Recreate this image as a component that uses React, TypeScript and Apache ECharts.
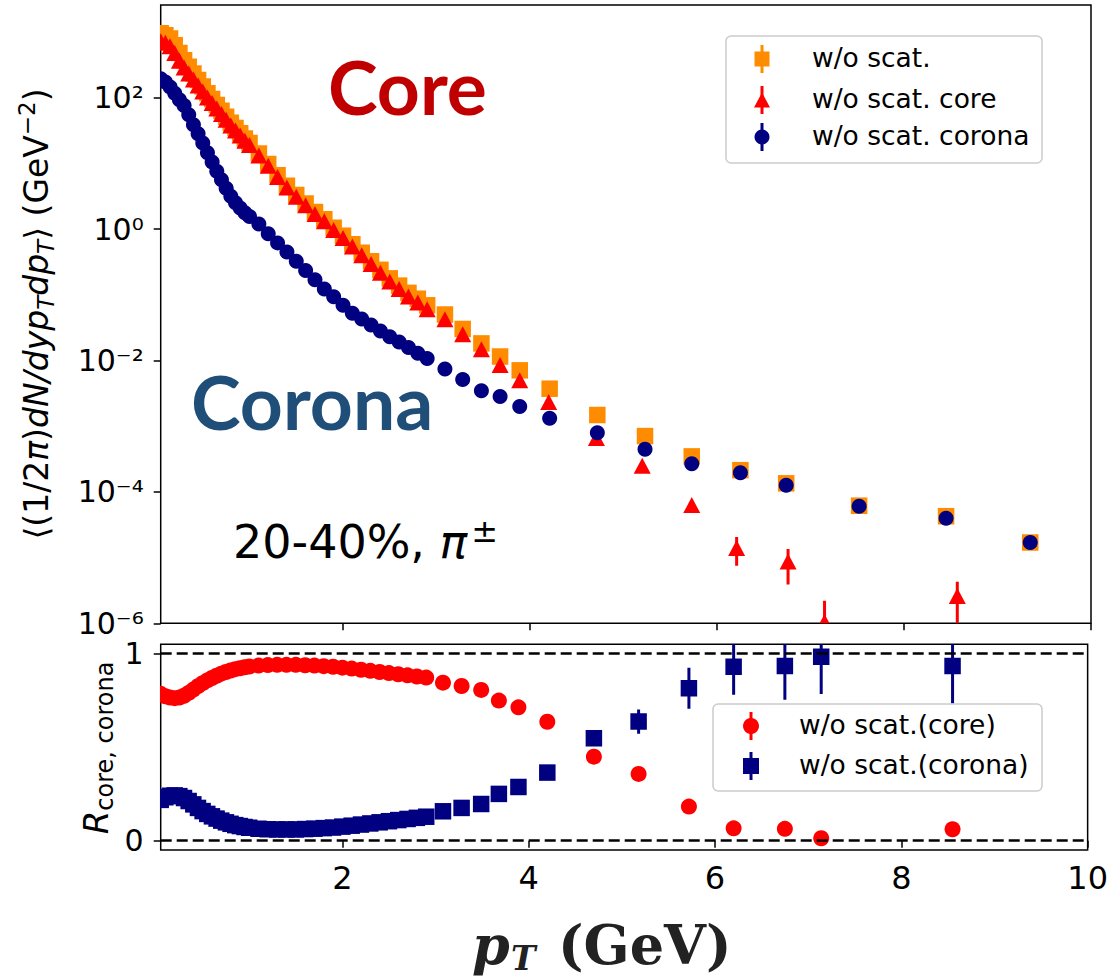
import React, { useEffect, useRef } from "react";
import * as echarts from "echarts";

// ---------------- data ----------------
const ptLow = [
  0.05, 0.1, 0.15, 0.2, 0.25, 0.3, 0.35, 0.4, 0.45, 0.5, 0.55, 0.6, 0.65, 0.7, 0.75, 0.8, 0.85, 0.9, 0.95, 1.0,
  1.1, 1.2, 1.3, 1.4, 1.5, 1.6, 1.7, 1.8, 1.9, 2.0, 2.1, 2.2, 2.3, 2.4, 2.5, 2.6, 2.7, 2.8, 2.9,
];
const ptHighAll = [3.09, 3.28, 3.48, 3.68, 3.89, 4.21, 4.72, 5.23, 5.73, 6.25, 6.74, 7.52, 8.45, 9.35];
const ptHighCore = [3.09, 3.28, 3.48, 3.68, 3.89, 4.2, 4.71, 5.2, 5.73, 6.21, 6.76, 7.15, 8.57];
const ptHighRatio = [3.08, 3.28, 3.49, 3.68, 3.89, 4.2, 4.7, 5.18, 5.72, 6.2, 6.75, 7.14, 8.55];

// (1/2pi) dN/dy pT dpT, GeV^-2
const yieldTotal = [
  955, 891, 794, 631, 479, 372, 295, 234, 186, 148, 117, 95.5, 77.6, 63.1, 51.3, 41.7, 34.7, 28.8, 24.0, 20.4,
  14.1, 9.77, 6.61, 4.57, 3.31, 2.45, 1.82, 1.41, 1.05, 0.794, 0.589, 0.437, 0.324, 0.24, 0.178, 0.138, 0.107, 0.0871, 0.0692,
  0.0501, 0.0302, 0.0182, 0.0115, 0.00708, 0.00372, 0.00148, 7.08e-4, 3.47e-4, 2.14e-4, 1.35e-4, 6.17e-5, 4.27e-5, 1.7e-5,
];
const yieldCore = [
  720, 689, 608, 481, 366, 288, 233, 189, 154, 124, 101, 83.2, 68.5, 56.4, 46.2, 37.9, 31.8, 26.6, 22.2, 19.0,
  13.2, 9.18, 6.21, 4.3, 3.11, 2.3, 1.7, 1.32, 0.973, 0.735, 0.542, 0.399, 0.294, 0.216, 0.159, 0.123, 0.0946, 0.0766, 0.0604,
  0.0424, 0.0251, 0.0148, 0.00851, 0.00501, 0.00234, 6.6e-4, 2.51e-4, 6.3e-5, 1.4e-5, 8.7e-6, 1.05e-6, 2.6e-6,
];
const errCoreHigh = [0, 0, 0, 0, 0, 0, 0, 0, 0, 6.5e-6, 4.8e-6, 1.15e-6, 1.7e-6];
const yieldCorona = [
  195, 174, 145, 117, 93.3, 75.9, 55.0, 38.9, 28.2, 20.4, 14.5, 10.5, 7.59, 5.62, 4.17, 3.16, 2.51, 2.09, 1.78, 1.55,
  1.2, 0.851, 0.617, 0.447, 0.324, 0.234, 0.17, 0.123, 0.0933, 0.0692, 0.0525, 0.0427, 0.0347, 0.0282, 0.0229, 0.0191, 0.0158, 0.0129, 0.0107,
  0.00741, 0.00513, 0.00347, 0.00282, 0.002, 0.00132, 7.94e-4, 4.47e-4, 2.69e-4, 1.95e-4, 1.26e-4, 6.03e-5, 3.98e-5, 1.7e-5,
];

// R_core, R_corona
const ratioCore = [
  0.785, 0.772, 0.765, 0.762, 0.765, 0.775, 0.79, 0.808, 0.826, 0.842, 0.857, 0.87, 0.882, 0.893, 0.902, 0.91, 0.917, 0.922, 0.927, 0.931,
  0.936, 0.939, 0.94, 0.94, 0.94, 0.938, 0.936, 0.933, 0.93, 0.925, 0.92, 0.914, 0.908, 0.902, 0.896, 0.89, 0.884, 0.878, 0.872,
  0.845, 0.827, 0.806, 0.749, 0.713, 0.636, 0.449, 0.357, 0.182, 0.066, 0.063, 0.013, 0.061,
];
const errRatioCoreHigh = [0, 0, 0, 0, 0, 0, 0.01, 0.02, 0.03, 0.02, 0.02, 0.01, 0.02];
const ratioCorona = [
  0.218, 0.232, 0.24, 0.242, 0.238, 0.228, 0.212, 0.194, 0.175, 0.158, 0.143, 0.13, 0.118, 0.107, 0.098, 0.09, 0.083, 0.078, 0.073, 0.069,
  0.064, 0.061, 0.06, 0.06, 0.06, 0.062, 0.064, 0.067, 0.07, 0.075, 0.08, 0.086, 0.092, 0.098, 0.104, 0.11, 0.116, 0.122, 0.128,
  0.157, 0.175, 0.196, 0.25, 0.287, 0.364, 0.548, 0.637, 0.815, 0.93, 0.934, 0.984, 0.934,
];
const errRatioCoronaHigh = [0, 0, 0, 0, 0, 0, 0.02, 0.065, 0.11, 0.15, 0.18, 0.2, 0.2];

const xTicks = [2, 4, 6, 8, 10];
const yLogTicks = [1e-6, 1e-4, 1e-2, 1, 100];
const yRatioTicks = [0, 1];
const refLines = [0, 1];

const legendTopLabels = ["w/o scat.", "w/o scat. core", "w/o scat. corona"];
const legendBottomLabels = ["w/o scat.(core)", "w/o scat.(corona)"];

// ---------------- styling ----------------
const C_TOTAL = "#ff8c00";
const C_CORE = "#ff0000";
const C_CORONA = "#000080";
const FONT = "DejaVu Sans";
const SERIF = "DejaVu Serif";

const SUP: Record<string, string> = {
  "0": "\u2070", "1": "\u00b9", "2": "\u00b2", "3": "\u00b3", "4": "\u2074",
  "5": "\u2075", "6": "\u2076", "7": "\u2077", "8": "\u2078", "9": "\u2079", "-": "\u207b",
};
const supStr = (n: number) => String(n).split("").map((c) => SUP[c] || c).join("");

function markerEl(shape: string, cx: number, cy: number, size: number, color: string) {
  if (shape === "square") {
    return { type: "rect", shape: { x: cx - size / 2, y: cy - size / 2, width: size, height: size }, style: { fill: color } };
  }
  if (shape === "triangle") {
    const w = size + 1;
    const h = size;
    return {
      type: "polygon",
      shape: { points: [[cx, cy - h / 2], [cx - w / 2, cy + h / 2], [cx + w / 2, cy + h / 2]] },
      style: { fill: color },
    };
  }
  return { type: "circle", shape: { cx, cy, r: size / 2 }, style: { fill: color } };
}

function makeRender(shape: string, size: number, color: string, yFloor: number) {
  return (_params: any, api: any) => {
    const x = api.value(0);
    const y = api.value(1);
    const e = api.value(2);
    const c = api.coord([x, y]);
    const children: any[] = [];
    if (e > 0) {
      const top = api.coord([x, y + e]);
      const bot = api.coord([x, Math.max(y - e, yFloor)]);
      children.push({
        type: "line",
        shape: { x1: c[0], y1: top[1], x2: c[0], y2: bot[1] },
        style: { stroke: color, lineWidth: 3 },
      });
    }
    children.push(markerEl(shape, c[0], c[1], size, color));
    return { type: "group", children };
  };
}

function zipData(xs: number[], ys: number[], errs: number[]) {
  return xs.map((x, i) => [x, ys[i], errs[i] || 0]);
}

const ptAll = [...ptLow, ...ptHighAll];
const ptCore = [...ptLow, ...ptHighCore];
const ptRatio = [...ptLow, ...ptHighRatio];
const zerosLow = ptLow.map(() => 0);

export default function App() {
  const ref = useRef<HTMLDivElement>(null);
  useEffect(() => {
    if (!ref.current) return;
    const chart = echarts.init(ref.current, undefined, { renderer: "svg" });

    const tickStyle = { color: "#000", width: 1.5 };
    const labelX = { fontFamily: FONT, fontSize: 32, color: "#000", lineHeight: 26 };
    const labelY = { fontFamily: FONT, fontSize: 30, color: "#000", lineHeight: 26 };

    const plainText = (text: string, x: number, y: number, font: string, fill = "#000", lineHeight?: number) => ({
      type: "text",
      x,
      y,
      z: 110,
      style: {
        text, fill, font, align: "left", verticalAlign: "middle", textAlign: "left", textVerticalAlign: "middle",
        ...(lineHeight ? { lineHeight } : {}),
      },
    });
    const legendMarker = (shape: string, cx: number, cy: number, size: number, color: string) => ({
      type: "group",
      z: 110,
      children: [
        { type: "line", z: 110, shape: { x1: cx, y1: cy - 14, x2: cx, y2: cy + 14 }, style: { stroke: color, lineWidth: 3 } },
        { ...markerEl(shape, cx, cy, size, color), z: 110 },
      ],
    });

    const option: any = {
      animation: false,
      backgroundColor: "#ffffff",
      grid: [
        { left: 160.7, top: 5, width: 930.3, height: 618.3, show: true, borderColor: "#000", borderWidth: 1.5, backgroundColor: "transparent" },
        { left: 160.7, top: 644.3, width: 930.3, height: 205.7, show: true, borderColor: "#000", borderWidth: 1.5, backgroundColor: "transparent" },
      ],
      xAxis: [
        {
          gridIndex: 0, type: "value", min: 0.05, max: 10,
          axisLine: { show: false }, splitLine: { show: false },
          axisTick: { show: true, customValues: xTicks, length: 7, lineStyle: tickStyle },
          axisLabel: { show: false },
        },
        {
          gridIndex: 1, type: "value", min: 0.05, max: 10,
          axisLine: { show: false }, splitLine: { show: false },
          axisTick: { show: true, customValues: xTicks, length: 7, lineStyle: tickStyle },
          axisLabel: { show: true, customValues: xTicks, margin: 15, ...labelX },
        },
      ],
      yAxis: [
        {
          gridIndex: 0, type: "log", logBase: 10, min: 1e-6, max: 2576,
          axisLine: { show: false }, splitLine: { show: false },
          axisTick: { show: true, customValues: yLogTicks, length: 7, lineStyle: tickStyle },
          axisLabel: {
            show: true, customValues: yLogTicks, margin: 17, ...labelY,
            formatter: (v: number) => "10" + supStr(Math.round(Math.log10(v))),
          },
        },
        {
          gridIndex: 1, type: "value", min: -0.05, max: 1.05,
          axisLine: { show: false }, splitLine: { show: false },
          axisTick: { show: true, customValues: yRatioTicks, length: 7, lineStyle: tickStyle },
          axisLabel: { show: true, customValues: yRatioTicks, margin: 17, ...labelY, formatter: (v: number) => String(Math.round(v)) },
        },
      ],
      series: [
        {
          name: legendTopLabels[0], type: "custom", xAxisIndex: 0, yAxisIndex: 0, clip: true, z: 2,
          renderItem: makeRender("square", 16.5, C_TOTAL, 1e-6),
          encode: { x: 0, y: 1 },
          data: zipData(ptAll, yieldTotal, []),
        },
        {
          name: legendTopLabels[1], type: "custom", xAxisIndex: 0, yAxisIndex: 0, clip: true, z: 3,
          renderItem: makeRender("triangle", 16, C_CORE, 1e-6),
          encode: { x: 0, y: 1 },
          data: zipData(ptCore, yieldCore, [...zerosLow, ...errCoreHigh]),
        },
        {
          name: legendTopLabels[2], type: "custom", xAxisIndex: 0, yAxisIndex: 0, clip: true, z: 4,
          renderItem: makeRender("circle", 15, C_CORONA, 1e-6),
          encode: { x: 0, y: 1 },
          data: zipData(ptAll, yieldCorona, []),
        },
        {
          name: legendBottomLabels[0], type: "custom", xAxisIndex: 1, yAxisIndex: 1, clip: true, z: 2,
          renderItem: makeRender("circle", 16, C_CORE, -1),
          encode: { x: 0, y: 1 },
          data: zipData(ptRatio, ratioCore, [...zerosLow, ...errRatioCoreHigh]),
        },
        {
          name: legendBottomLabels[1], type: "custom", xAxisIndex: 1, yAxisIndex: 1, clip: true, z: 3,
          renderItem: makeRender("square", 16.5, C_CORONA, -1),
          encode: { x: 0, y: 1 },
          data: zipData(ptRatio, ratioCorona, [...zerosLow, ...errRatioCoronaHigh]),
        },
        {
          name: "ref", type: "line", xAxisIndex: 1, yAxisIndex: 1, data: [], z: 5,
          markLine: {
            silent: true, symbol: "none", label: { show: false }, animation: false,
            lineStyle: { color: "#000", type: [11, 5], width: 2.6 },
            data: refLines.map((v) => ({ yAxis: v })),
          },
        },
      ],
      graphic: {
        elements: [
          // big annotations
          plainText("Core", 328, 86, 'bold 75px "Lato"', "#c00000"),
          plainText("Corona", 191, 401, 'bold 75px "Lato"', "#1f4e79"),
          {
            type: "text", x: 233, y: 542, z: 50,
            style: {
              text: "{n|20-40%, }{i|\u03c0}{p|\u00b1}",
              align: "left", verticalAlign: "middle", textAlign: "left", textVerticalAlign: "middle",
              rich: {
                n: { fontFamily: FONT, fontSize: 46, lineHeight: 54, fill: "#000", color: "#000" },
                i: { fontFamily: FONT, fontSize: 46, lineHeight: 54, fontStyle: "italic", fill: "#000", color: "#000" },
                p: { fontFamily: FONT, fontSize: 32, lineHeight: 32, verticalAlign: "top", padding: [0, 0, 0, 4], fill: "#000", color: "#000" },
              },
            },
          },
          // y axis titles
          {
            type: "text", x: 36, y: 314, rotation: Math.PI / 2, z: 50,
            style: {
              text: "{n|\u27e8(1/2}{i|\u03c0}{n|)}{i|dN/dyp}{s|T}{i|dp}{s|T}{n|\u27e9 (GeV}{p|\u22122}{n|)}",
              align: "center", verticalAlign: "middle", textAlign: "center", textVerticalAlign: "middle",
              rich: {
                n: { fontFamily: FONT, fontSize: 33, lineHeight: 42, fill: "#000", color: "#000" },
                i: { fontFamily: FONT, fontSize: 33, lineHeight: 42, fontStyle: "italic", fill: "#000", color: "#000" },
                s: { fontFamily: FONT, fontSize: 23, lineHeight: 23, fontStyle: "italic", verticalAlign: "bottom", fill: "#000", color: "#000" },
                p: { fontFamily: FONT, fontSize: 23, lineHeight: 23, verticalAlign: "top", fill: "#000", color: "#000" },
              },
            },
          },
          {
            type: "text", x: 96, y: 748, rotation: Math.PI / 2, z: 50,
            style: {
              text: "{r|R}{s|core, corona}",
              align: "center", verticalAlign: "middle", textAlign: "center", textVerticalAlign: "middle",
              rich: {
                r: { fontFamily: FONT, fontSize: 34, lineHeight: 42, fontStyle: "italic", fill: "#000", color: "#000" },
                s: { fontFamily: FONT, fontSize: 24, lineHeight: 24, verticalAlign: "bottom", fill: "#000", color: "#000" },
              },
            },
          },
          // x axis title: p_T (GeV)
          plainText("p", 472, 945, `italic bold 54px "${SERIF}"`, "#222", 54),
          plainText("T", 511, 958, `italic bold 33px "${SERIF}"`, "#222", 30),
          plainText("(GeV)", 558, 945, `bold 54px "${SERIF}"`, "#222", 54),
          // top legend
          {
            type: "rect", z: 100,
            shape: { x: 726, y: 36, width: 316, height: 127, r: 5 },
            style: { fill: "rgba(255,255,255,0.8)", stroke: "#cccccc", lineWidth: 1.5 },
          },
          legendMarker("square", 762, 59, 15, C_TOTAL),
          legendMarker("triangle", 762, 100, 15, C_CORE),
          legendMarker("circle", 762, 137, 15, C_CORONA),
          plainText(legendTopLabels[0], 812, 57, `26.5px "${FONT}"`),
          plainText(legendTopLabels[1], 812, 98, `26.5px "${FONT}"`),
          plainText(legendTopLabels[2], 812, 135, `26.5px "${FONT}"`),
          // bottom legend
          {
            type: "rect", z: 100,
            shape: { x: 713, y: 704, width: 329, height: 87, r: 5 },
            style: { fill: "rgba(255,255,255,0.8)", stroke: "#cccccc", lineWidth: 1.5 },
          },
          legendMarker("circle", 751, 726, 16, C_CORE),
          legendMarker("square", 751, 766, 16, C_CORONA),
          plainText(legendBottomLabels[0], 799, 724, `26.5px "${FONT}"`),
          plainText(legendBottomLabels[1], 799, 764, `26.5px "${FONT}"`),
        ],
      },
    };

    chart.setOption(option);
    return () => chart.dispose();
  }, []);

  return <div ref={ref} style={{ position: "absolute", left: 0, top: 0, width: 1111, height: 977 }} />;
}
